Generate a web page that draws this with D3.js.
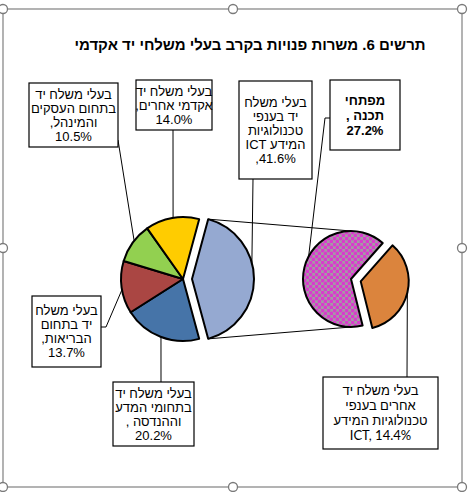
<!DOCTYPE html>
<html lang="he">
<head>
<meta charset="utf-8">
<script src="https://cdn.jsdelivr.net/npm/d3@7"></script>
<style>
    body { margin: 0; background: #fff; }
    svg { display: block; font-family: 'Liberation Sans', Arial, sans-serif; }
</style>
</head>
<body>
<svg id="chart"></svg>
<script>
// main pie: academic occupations, share of job vacancies (%)
var categories = [
    'בעלי משלח יד בענפי טכנולוגיות המידע ICT',
    'בעלי משלח יד בתחומי המדע וההנדסה',
    'בעלי משלח יד בתחום הבריאות',
    'בעלי משלח יד בתחום העסקים והמינהל',
    'בעלי משלח יד אקדמי אחרים'
];
var values = [41.6, 20.2, 13.7, 10.5, 14.0];

// secondary pie: the ICT slice split up
var subCategories = ['מפתחי תכנה', 'בעלי משלח יד אחרים בענפי טכנולוגיות המידע ICT'];
var subValues = [27.2, 14.4];

// label text, broken into lines the way the callouts show it (%v = value)
var labelLines = [
    ['בעלי משלח', 'יד בענפי', 'טכנולוגיות', 'המידע ICT', '%v,'],
    ['בעלי משלח יד', 'בתחומי המדע', 'וההנדסה ,', '%v'],
    ['בעלי משלח', 'יד בתחום', 'הבריאות,', '%v'],
    ['בעלי משלח יד', 'בתחום העסקים', 'והמינהל,', '%v'],
    ['בעלי משלח יד', 'אקדמי אחרים,', '%v']
];
var subLabelLines = [
    ['מפתחי', 'תכנה ,', '%v'],
    ['בעלי משלח יד', 'אחרים בענפי', 'טכנולוגיות המידע', 'ICT, %v']
];

var title = 'תרשים 6. משרות פנויות בקרב בעלי משלחי יד אקדמי';

(function () {
    var width = 468, height = 492;
    var colors = ['#95a9d1', '#4674a8', '#aa4643', '#92d050', '#ffcc00'];
    var subColors = ['url(#dots)', '#db843d'];
    var mainCenter = [183, 279], mainRadius = 62, mainExplode = 9;
    var subCenter = [351, 279], subRadius = 48, subExplode = 10;
    var fmt = d3.format('.1f');
    var rad = Math.PI / 180;

    // callout boxes: [x, y, w, h], where the leader leaves the box, optional elbow, angle it hits
    var mainCallouts = [
        { box: [239, 81, 73, 98], from: [253, 179], angle: 75 },
        { box: [113, 382, 81, 64], from: [161, 382], angle: 200.8 },
        { box: [32, 296, 69, 71], from: [101, 327], elbow: [106, 327], angle: 260 },
        { box: [29, 83, 89, 64], from: [118, 140], angle: 308 },
        { box: [136, 80, 76, 50], from: [173, 130], angle: 350.8 }
    ];
    var subCallouts = [
        { box: [330, 80, 70, 70], from: [330, 118], elbow: [325, 118], angle: 298, bold: true, lh: 15 },
        { box: [323, 377, 115, 72], from: [407, 377], angle: 103.7, lh: 15, font: 'Lato, "Liberation Sans", sans-serif' }
    ];

    var svg = d3.select('#chart')
        .attr('width', width)
        .attr('height', height);

    // magenta pattern with grey checks for the software developers slice
    var pattern = svg.append('defs').append('pattern')
        .attr('id', 'dots')
        .attr('patternUnits', 'userSpaceOnUse')
        .attr('width', 6)
        .attr('height', 6);
    pattern.append('rect').attr('width', 6).attr('height', 6).attr('fill', '#a49ca4');
    pattern.selectAll('circle')
        .data([[1.5, 1.5], [4.5, 4.5]])
        .enter().append('circle')
            .attr('cx', function (d) { return d[0]; })
            .attr('cy', function (d) { return d[1]; })
            .attr('r', 1.9)
            .attr('fill', '#d93ccd');

    svg.append('rect').attr('width', width).attr('height', height).attr('fill', '#fff');

    // selection frame round the chart object
    svg.append('rect')
        .attr('x', 3).attr('y', 9).attr('width', 459).attr('height', 478)
        .attr('fill', 'none').attr('stroke', '#8a8a8a').attr('stroke-width', 1.3);
    var handles = [[3, 9], [233, 9], [462, 9], [3, 248], [462, 248], [3, 487], [233, 487], [462, 487]];
    svg.selectAll('.handle')
        .data(handles)
        .enter().append('circle')
            .attr('class', 'handle')
            .attr('cx', function (d) { return d[0]; })
            .attr('cy', function (d) { return d[1]; })
            .attr('r', 4.5)
            .attr('fill', '#fff')
            .attr('stroke', '#7a7a7a')
            .attr('stroke-width', 1.3);

    svg.append('text')
        .attr('x', 250)
        .attr('y', 50)
        .attr('direction', 'rtl')
        .attr('text-anchor', 'middle')
        .attr('font-size', 15)
        .attr('font-weight', 'bold')
        .text(title);

    // main pie, ICT slice centred on the right side and pulled out
    var total = d3.sum(values);
    var mainStart = 90 * rad - values[0] / total * Math.PI;
    var mainArcs = d3.pie().sort(null)
        .startAngle(mainStart)
        .endAngle(mainStart + 2 * Math.PI)(values);

    // secondary pie, other-ICT slice pulled out
    var subStart = 166 * rad;
    var subArcs = d3.pie().sort(null)
        .startAngle(subStart)
        .endAngle(subStart + 2 * Math.PI)(subValues);

    var mainArc = d3.arc().innerRadius(0).outerRadius(mainRadius);
    var subArc = d3.arc().innerRadius(0).outerRadius(subRadius);

    function polar(c, r, a) {
        return [c[0] + r * Math.sin(a), c[1] - r * Math.cos(a)];
    }
    function sliceCenter(center, d, explode) {
        return polar(center, explode, (d.startAngle + d.endAngle) / 2);
    }

    var mainCenters = mainArcs.map(function (d, i) { return sliceCenter(mainCenter, d, i === 0 ? mainExplode : 0); });
    var subCenters = subArcs.map(function (d, i) { return sliceCenter(subCenter, d, i === 1 ? subExplode : 0); });

    // lines joining the ICT slice to the secondary pie
    var ict = mainArcs[0];
    var joins = [
        [polar(mainCenters[0], mainRadius, ict.startAngle), [subCenter[0], subCenter[1] - subRadius]],
        [polar(mainCenters[0], mainRadius, ict.endAngle), [subCenter[0], subCenter[1] + subRadius]]
    ];
    svg.selectAll('.join')
        .data(joins)
        .enter().append('path')
            .attr('class', 'join')
            .attr('d', function (d) { return d3.line()(d); })
            .attr('stroke', '#000')
            .attr('stroke-width', 1);

    svg.selectAll('.slice')
        .data(mainArcs)
        .enter().append('path')
            .attr('class', 'slice')
            .attr('transform', function (d, i) { return 'translate(' + mainCenters[i] + ')'; })
            .attr('d', mainArc)
            .attr('fill', function (d, i) { return colors[i]; })
            .attr('stroke', '#000')
            .attr('stroke-width', 2)
            .attr('stroke-linejoin', 'round');

    svg.selectAll('.subslice')
        .data(subArcs)
        .enter().append('path')
            .attr('class', 'subslice')
            .attr('transform', function (d, i) { return 'translate(' + subCenters[i] + ')'; })
            .attr('d', subArc)
            .attr('fill', function (d, i) { return subColors[i]; })
            .attr('stroke', '#000')
            .attr('stroke-width', 2)
            .attr('stroke-linejoin', 'round');

    // callouts with leader lines
    function drawCallouts(callouts, arcs, centers, radius, vals, lines) {
        callouts.forEach(function (c, i) {
            var end = polar(centers[i], radius, c.angle * rad);
            var pts = [c.from];
            if (c.elbow) pts.push(c.elbow);
            pts.push(end);
            svg.append('path')
                .attr('d', d3.line()(pts))
                .attr('fill', 'none')
                .attr('stroke', '#000')
                .attr('stroke-width', 1);

            svg.append('rect')
                .attr('x', c.box[0]).attr('y', c.box[1])
                .attr('width', c.box[2]).attr('height', c.box[3])
                .attr('fill', '#fff')
                .attr('stroke', '#000')
                .attr('stroke-width', 1.2);

            var lh = c.lh || 14;
            var text = lines[i].map(function (s) { return s.replace('%v', fmt(vals[i]) + '%'); });
            var top = c.box[1] + c.box[3] / 2 - lh * text.length / 2;
            text.forEach(function (s, j) {
                svg.append('text')
                    .attr('x', c.box[0] + c.box[2] / 2)
                    .attr('y', top + lh * (j + 0.5))
                    .attr('dy', '0.36em')
                    .attr('direction', /^[A-Za-z]/.test(s) ? 'ltr' : 'rtl')
                    .attr('text-anchor', 'middle')
                    .attr('font-size', 13)
                    .attr('font-weight', c.bold ? 'bold' : null)
                    .style('font-family', c.font || null)
                    .text(s);
            });
        });
    }

    drawCallouts(mainCallouts, mainArcs, mainCenters, mainRadius, values, labelLines);
    drawCallouts(subCallouts, subArcs, subCenters, subRadius, subValues, subLabelLines);
}());
</script>
</body>
</html>
